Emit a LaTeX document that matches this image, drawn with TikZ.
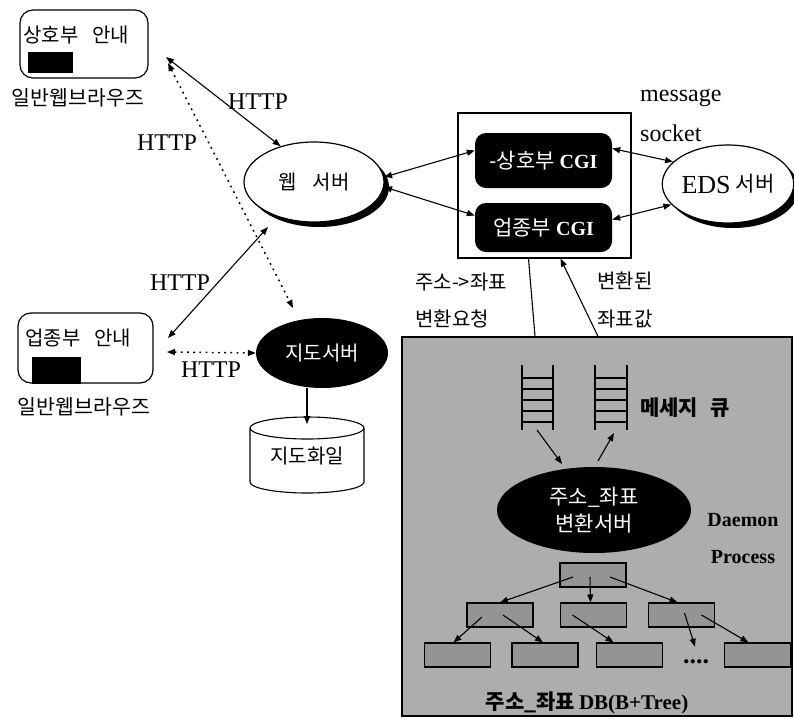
\documentclass[tikz,border=0pt]{standalone}
\usepackage{fontspec}
\setmainfont{Liberation Serif}
\newfontfamily\kr{Noto Sans CJK KR}
\usetikzlibrary{arrows.meta,shapes.geometric,shadows}

\tikzset{
  onearrow/.style={-{Triangle[length=8pt,width=6pt]}},
  twoarrow/.style={{Triangle[length=8pt,width=6pt]}-{Triangle[length=8pt,width=6pt]}},
  wire/.style={line width=1.1pt},
  dotline/.style={line width=1.5pt, dash pattern=on 1.8pt off 4.4pt},
  krtext/.style={font=\kr\fontsize{20}{23}\selectfont, inner sep=0pt},
  entext/.style={font=\fontsize{24}{26}\selectfont, inner sep=0pt},
  browser/.style={draw, line width=1.2pt, rounded corners=13pt, inner sep=0pt},
  screen/.style={fill=black, draw=black, inner sep=0pt},
  server/.style={ellipse, draw, line width=1.2pt, fill=white, inner sep=0pt,
    drop shadow={shadow xshift=5pt, shadow yshift=-5pt, fill=black, opacity=1}},
  blackserver/.style={ellipse, fill=black, inner sep=0pt, text=white},
  cgi/.style={fill=black, rounded corners=11pt, minimum width=137pt, inner sep=0pt, text=white},
  leaf/.style={draw, line width=1.1pt, fill=black!42, minimum width=66pt, minimum height=24pt, inner sep=0pt},
}

\begin{document}
\begin{tikzpicture}[x=1pt,y=-1pt]
\useasboundingbox (0,0) rectangle (794,718);

% ---- address/coordinate conversion daemon area ----
\node[draw, line width=1.2pt, fill=black!32, minimum width=390pt, minimum height=379pt, inner sep=0pt] (daemon) at (597,526.5) {};

% ---- web browsers ----
\node[browser, minimum width=128pt, minimum height=68pt] (b1) at (84,44) {};
\node[krtext, anchor=west] (b1t) at (23,35) {상호부\hspace{0.7em}안내};
\node[screen, minimum width=44pt, minimum height=20pt] (b1s) at (50,62) {};
\node[krtext, font=\kr\fontsize{20.5}{23}\selectfont] (b1l) at (78,98) {일반웹브라우즈};

\node[browser, minimum width=135pt, minimum height=70pt] (b2) at (85.5,348) {};
\node[krtext, anchor=west] (b2t) at (25,338) {업종부\hspace{0.7em}안내};
\node[screen, minimum width=48pt, minimum height=26pt] (b2s) at (56,370) {};
\node[krtext, font=\kr\fontsize{20.5}{23}\selectfont] (b2l) at (84,407) {일반웹브라우즈};

% ---- servers ----
\node[server, minimum width=140pt, minimum height=80pt, font=\kr\fontsize{20}{23}\selectfont] (web) at (314,182) {웹\hspace{0.8em}서버};
\node[blackserver, minimum width=132pt, minimum height=70pt, font=\kr\fontsize{20}{23}\selectfont] (mapsrv) at (322,353) {지도서버};
\node[server, minimum width=124pt, minimum height=78pt] (eds) at (728,184)
  {\fontsize{26}{28}\selectfont EDS\hspace{0.2em}\raisebox{2pt}{\kr\fontsize{21}{23}\selectfont 서버}};

% ---- map file cylinder ----
\draw[line width=1.1pt] (307,428) ellipse [x radius=57, y radius=11];
\draw[line width=1.1pt] (250,428) -- (250,482) arc[start angle=180, end angle=0, x radius=57, y radius=11] -- (364,428);
\node[krtext] (mapfile) at (307,456) {지도화일};

% ---- CGI container ----
\node[draw, line width=1.2pt, minimum width=173pt, minimum height=145pt, inner sep=0pt] (cgibox) at (544.5,185.5) {};
\node[cgi, minimum height=55pt] (cgi1) at (543.5,160.5)
  {{\kr\fontsize{21}{23}\selectfont -상호부}\hspace{0.5em}{\fontsize{20}{22}\selectfont\bfseries CGI}};
\node[cgi, minimum height=49pt] (cgi2) at (543.5,227.5)
  {{\kr\fontsize{21}{23}\selectfont 업종부}\hspace{0.5em}{\fontsize{20}{22}\selectfont\bfseries CGI}};

% ---- free connector ends ----
\coordinate (b1a) at (166,57);
\coordinate (b1b) at (168,63);
\coordinate (mapin) at (293,308);
\coordinate (webdown) at (268,227);
\coordinate (b2a) at (168,338);
\coordinate (b2b) at (167,352);
\coordinate (cyltop) at (307,424);

% ---- HTTP links ----
\draw[wire, twoarrow] (b1a) -- (web.133);
\draw[dotline, twoarrow] (b1b) -- (mapin);
\draw[wire, twoarrow] (webdown) -- (b2a);
\draw[dotline, twoarrow] (b2b) -- (mapsrv.west);
\draw[wire, onearrow] ([xshift=-15pt]mapsrv.south) -- (cyltop);

\node[entext] (h1) at (258,102) {HTTP};
\node[entext] (h2) at (167,143) {HTTP};
\node[entext] (h3) at (180,283) {HTTP};
\node[entext] (h4) at (211,370) {HTTP};

% ---- web server to CGI, CGI to EDS ----
\draw[wire, twoarrow] (web.4) -- ([yshift=10pt]cgi1.west);
\draw[wire, twoarrow] (web.-4) -- ([yshift=12pt]cgi2.west);
\draw[wire, twoarrow] ([yshift=12pt]cgi1.east) -- (eds.158);
\draw[wire, twoarrow] ([yshift=8pt]cgi2.east) -- (eds.200);

\node[entext, anchor=west] (msg) at (640,98) {message};
\node[entext, anchor=west] (sock) at (640,133) {socket};

% ---- CGI to daemon requests ----
\draw[wire] ([xshift=-16pt]cgibox.south) -- ([xshift=-62pt]daemon.north);
\draw[wire, onearrow] ([xshift=1pt]daemon.north) -- ([xshift=16pt]cgibox.south);

\node[krtext, anchor=west] (req1) at (415,282) {주소->좌표};
\node[krtext, anchor=west] (req2) at (415,319) {변환요청};
\node[krtext, anchor=west] (res1) at (597,281) {변환된};
\node[krtext, anchor=west] (res2) at (597,319) {좌표값};

% ---- message queues ----
\foreach \x in {522,553,595,627}
  \draw[line width=1.9pt] (\x,365) -- (\x,430);
\foreach \y in {378,389,400,411,422} {
  \draw[line width=1.3pt] (522,\y) -- (553,\y);
  \draw[line width=1.3pt] (595,\y) -- (627,\y);
}
\node[krtext, anchor=west, font=\kr\fontsize{21}{23}\selectfont\bfseries] (mq) at (640,408) {메세지\hspace{0.6em}큐};

% ---- conversion server ----
\node[blackserver, minimum width=194pt, minimum height=86pt, align=center,
  font=\kr\fontsize{21}{27}\selectfont] (conv) at (594,510) {주소\_좌표\\변환서버};
\coordinate (q1) at (537,430);
\coordinate (q2) at (614,433);
\coordinate (qin) at (562,464);
\coordinate (qout) at (598,461);
\draw[wire, onearrow] (q1) -- (qin);
\draw[wire, onearrow] (qout) -- (q2);

\node[entext, font=\fontsize{20}{22}\selectfont\bfseries] (dm) at (743,520) {Daemon};
\node[entext, font=\fontsize{20}{22}\selectfont\bfseries] (pr) at (743,557) {Process};

% ---- B+ tree ----
\node[leaf] (root) at (593,575) {};
\node[leaf] (n1) at (500,615) {};
\node[leaf] (n2) at (593.5,615) {};
\node[leaf] (n3) at (681.5,615) {};
\node[leaf] (m1) at (457.5,655) {};
\node[leaf] (m2) at (545,655) {};
\node[leaf] (m3) at (629.5,655) {};
\node[leaf] (m4) at (757.5,655) {};
\node[inner sep=1pt, font=\fontsize{26}{26}\selectfont\bfseries] (more) at (696,662) {....};

\draw[wire, onearrow] ([xshift=-20pt,yshift=-2pt]root.center) -- (n1.north);
\draw[wire, onearrow] ([xshift=-3pt,yshift=-2pt]root.center) -- ([xshift=-3pt]n2.north);
\draw[wire, onearrow] ([xshift=17pt,yshift=-2pt]root.center) -- ([xshift=-4pt]n3.north);
\draw[wire, onearrow] ([xshift=-18pt,yshift=-2pt]n1.center) -- ([xshift=-4pt]m1.north);
\draw[wire, onearrow] ([xshift=3pt]n1.center) -- ([xshift=-2pt]m2.north);
\draw[wire, onearrow] ([xshift=-21pt]n2.center) -- ([xshift=-16pt]m3.north);
\draw[wire, onearrow] ([xshift=3pt,yshift=2pt]n3.center) -- ([xshift=-1pt,yshift=12pt]more.north);
\draw[wire, onearrow] ([xshift=20pt]n3.center) -- ([xshift=-9pt]m4.north);

\node[inner sep=0pt] (dblabel) at (587,703)
  {{\kr\fontsize{21}{23}\selectfont\bfseries 주소\_좌표}\hspace{0.4em}{\fontsize{21}{22}\selectfont\bfseries DB(B+Tree)}};
\end{tikzpicture}
\end{document}
